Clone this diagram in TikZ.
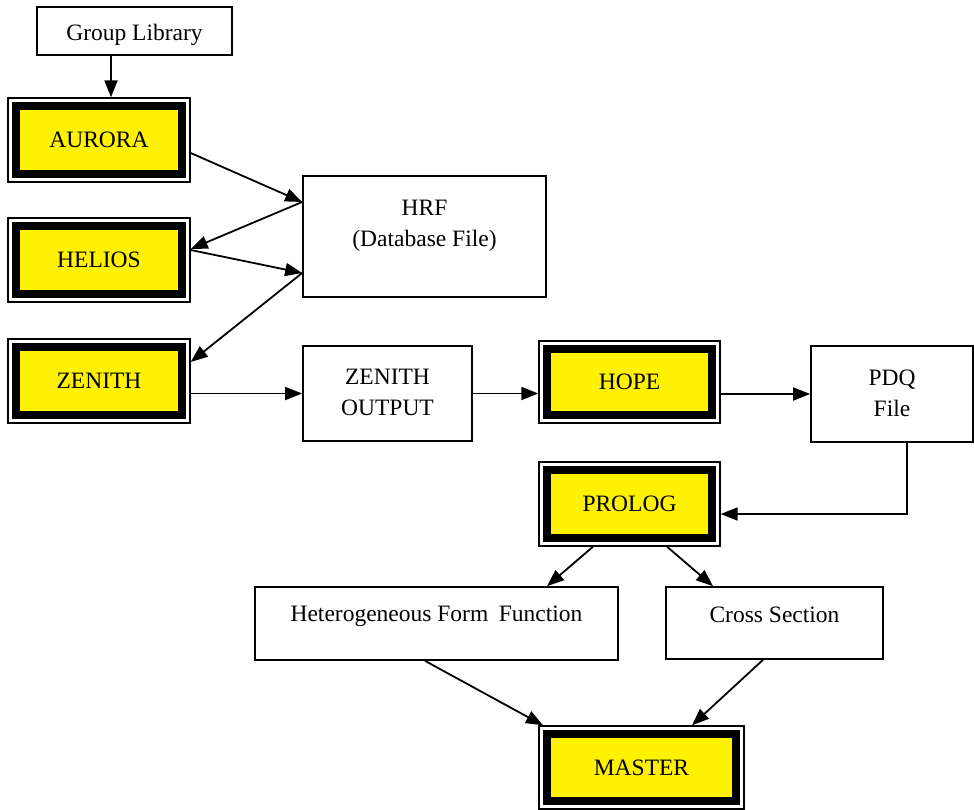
\documentclass[tikz,border=0pt]{standalone}
\usepackage{fontspec}
\setmainfont{Liberation Serif}
\usetikzlibrary{arrows.meta}
\tikzset{
  every node/.style={font=\fontsize{23.5}{31}\selectfont, align=center},
  pbox/.style={draw, line width=1.7pt, inner sep=0pt},
  ybox/.style={draw, line width=1.4pt, inner sep=0pt,
    path picture={\draw[line width=8pt, fill=yellow]
      ([xshift=8pt,yshift=-8pt]path picture bounding box.north west) rectangle
      ([xshift=-8pt,yshift=8pt]path picture bounding box.south east);}},
  arr/.style={line width=1.8pt, -{Triangle[length=17pt,width=13pt]}}
}
\begin{document}
\begin{tikzpicture}[x=1pt,y=-1pt]
\useasboundingbox (0,0) rectangle (974,810);
% plain boxes
\node[pbox, minimum width=195pt, minimum height=48pt] (glib) at (134.5,31) {};
\node (glibt) at (134.5,35) {Group Library};
\node[pbox, minimum width=243pt, minimum height=121pt] (hrf) at (424.5,236.5) {};
\node (hrft) at (424.5,226) {HRF\\(Database File)};
\node[pbox, minimum width=169pt, minimum height=95pt] (zout) at (387.5,393.5) {};
\node (zoutt) at (387.5,392) {ZENITH\\OUTPUT};
\node[pbox, minimum width=162pt, minimum height=96pt] (pdq) at (892,394) {};
\node (pdqt) at (892,393) {PDQ\\File};
\node[pbox, minimum width=363pt, minimum height=73pt] (hff) at (436.5,623.5) {};
\node (hfft) at (436.5,616) {Heterogeneous Form\hspace{0.45em}Function};
\node[pbox, minimum width=217pt, minimum height=72pt] (cross) at (774.5,623) {};
\node (crosst) at (774.5,615) {Cross Section};
% yellow boxes
\node[ybox, minimum width=182pt, minimum height=84pt] (aurora) at (99,140) {AURORA};
\node[ybox, minimum width=182pt, minimum height=84pt] (helios) at (99,260) {HELIOS};
\node[ybox, minimum width=182pt, minimum height=84pt] (zenith) at (99,381) {ZENITH};
\node[ybox, minimum width=181pt, minimum height=82pt] (hope) at (629.5,382) {HOPE};
\node[ybox, minimum width=181pt, minimum height=84pt] (prolog) at (629.5,504) {PROLOG};
\node[ybox, minimum width=205pt, minimum height=83pt] (master) at (641.5,767.5) {MASTER};
% connectors
\draw[arr] ([xshift=-23.5pt]glib.south) -- ([xshift=12pt]aurora.north);
\draw[arr] ([yshift=-13pt]aurora.east) -- ([yshift=34.5pt]hrf.west);
\draw[arr] ([yshift=34.5pt]hrf.west) -- ([yshift=11pt]helios.east);
\draw[arr] ([yshift=10pt]helios.east) -- ([yshift=-36.5pt]hrf.west);
\draw[arr] ([yshift=-36.5pt]hrf.west) -- ([yshift=19pt]zenith.east);
\draw[arr] (zenith.east |- zout.west) -- (zout.west);
\draw[arr] (zout.east) -- (hope.west |- zout.east);
\draw[arr] (hope.east |- pdq.west) -- (pdq.west);
\draw[arr] ([xshift=15pt]pdq.south) |- ([yshift=-10pt]prolog.east);
\draw[arr] ([xshift=-36.5pt]prolog.south) -- ([xshift=110.5pt]hff.north);
\draw[arr] ([xshift=37.5pt]prolog.south) -- ([xshift=-61.5pt]cross.north);
\draw[arr] ([xshift=-11.5pt]hff.south) -- ([xshift=-98.5pt]master.north);
\draw[arr] ([xshift=-11.5pt]cross.south) -- ([xshift=50.5pt]master.north);
\end{tikzpicture}
\end{document}
